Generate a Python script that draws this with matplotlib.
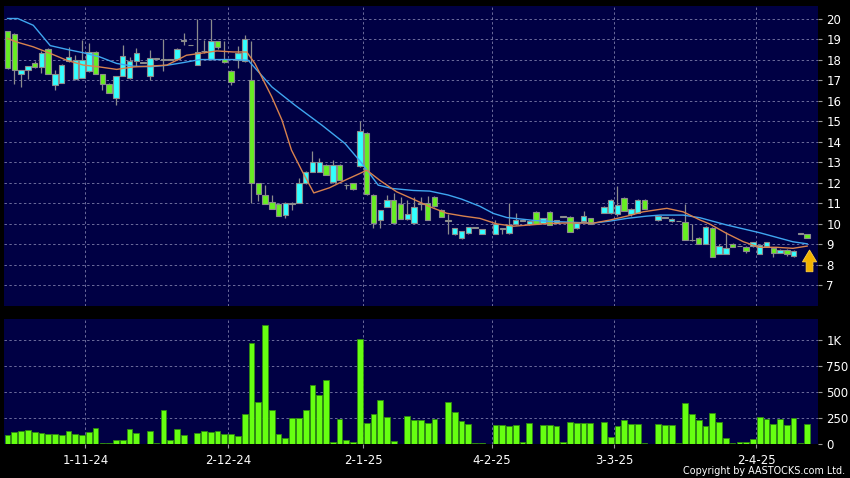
import numpy as np
import matplotlib
matplotlib.use("Agg")
import matplotlib.pyplot as plt
from matplotlib.patches import FancyArrow

nan = np.nan
# ---------------- data (trading-day index 0..118) ----------------
opens = [19.37, 19.25, 17.30, 17.47, 17.83, 17.64, 18.51, 16.78, 16.86, 17.91,
         17.05, 17.10, 17.43, 18.35, 17.30, 16.82, 16.13, 17.21, 17.10, 17.91,
         17.83, 17.18, 18.05, 18.00, 18.00, 18.03, 18.90, 18.70, 17.75, 18.40,
         18.05, 18.89, 18.03, 17.46, 18.00, 17.91, 17.02, 11.99, 11.42, 11.07,
         10.97, 10.42, 10.97, 11.02, 11.99, 12.51, 12.51, 12.85, 12.02, 12.85,
         11.88, 11.99, 12.80, 14.42, 11.42, 10.17, 10.82, 11.18, 10.97, 10.21,
         10.02, 10.96, 10.99, 11.32, 10.67, 10.15, 9.50, 9.29, 9.53, 9.80,
         9.50, nan, 9.50, 9.75, 9.55, 9.99, 10.15, 9.99, 10.57, 10.02,
         10.57, 10.03, 10.33, 10.35, 9.78, 10.12, 10.27, nan, 10.52, 10.50,
         10.45, 11.26, 10.45, 10.53, 11.18, nan, 10.20, 10.30, 10.12, 10.12,
         10.07, 9.20, 9.31, 9.03, 9.80, 8.54, 8.54, 9.02, 8.90, 8.87,
         8.90, 8.54, 8.90, 8.82, 8.58, 8.74, 8.45, 9.50, 9.48]
closes = [17.59, 17.50, 17.47, 17.67, 17.64, 18.32, 17.31, 17.30, 17.75, 18.12,
          17.99, 17.99, 18.35, 17.31, 16.82, 16.37, 17.18, 18.16, 17.91, 18.32,
          17.83, 18.07, 18.05, 18.05, 18.00, 18.51, 18.92, 18.70, 18.37, 18.40,
          18.89, 18.59, 17.86, 16.89, 18.32, 19.00, 11.99, 11.47, 10.98, 10.74,
          10.40, 11.02, 10.97, 11.99, 12.53, 13.00, 13.00, 12.35, 12.85, 12.12,
          11.88, 11.70, 14.50, 11.47, 10.04, 10.66, 11.18, 10.04, 10.21, 10.47,
          10.80, 10.99, 10.18, 10.86, 10.35, 10.17, 9.77, 9.66, 9.82, 9.80,
          9.73, nan, 9.99, 9.75, 9.94, 10.18, 10.15, 10.15, 9.99, 10.26,
          9.94, 10.16, 10.33, 9.61, 10.02, 10.38, 10.00, nan, 10.82, 11.15,
          10.89, 10.61, 10.72, 11.18, 10.72, nan, 10.40, 10.30, 10.25, 10.12,
          9.23, 9.20, 9.03, 9.85, 8.38, 8.90, 8.82, 8.87, 8.90, 8.66,
          9.10, 8.98, 9.10, 8.58, 8.74, 8.50, 8.66, 9.50, 9.29]
highs = [19.40, 19.30, 17.50, 17.70, 17.95, 18.40, 18.55, 17.50, 17.80, 18.60,
         18.20, 18.97, 18.80, 18.40, 17.30, 16.85, 17.20, 18.72, 18.12, 18.56,
         17.83, 18.45, 18.05, 19.00, 18.00, 18.55, 19.28, 18.70, 20.00, 18.95,
         19.97, 18.90, 18.90, 17.50, 18.64, 19.20, 18.90, 12.00, 11.88, 11.40,
         11.00, 11.05, 11.05, 12.23, 12.55, 13.53, 13.20, 12.90, 13.10, 12.90,
         11.95, 12.00, 15.00, 14.45, 11.45, 10.66, 11.40, 11.50, 11.30, 11.15,
         11.32, 11.30, 11.35, 11.35, 10.70, 10.45, 9.78, 9.66, 9.82, 9.80,
         9.73, nan, 10.20, 9.80, 11.00, 10.50, 10.15, 10.20, 10.60, 10.30,
         10.60, 10.20, 10.33, 10.40, 10.10, 10.60, 10.30, nan, 10.85, 11.20,
         11.86, 11.30, 10.75, 11.20, 11.20, nan, 10.40, 10.30, 10.30, 10.12,
         10.94, 10.00, 9.35, 9.90, 9.85, 9.00, 9.59, 9.05, 8.90, 8.90,
         9.10, 9.00, 9.10, 8.85, 8.75, 8.75, 8.70, 9.50, 9.52]
lows = [17.55, 16.80, 16.66, 17.07, 17.60, 17.34, 17.30, 16.53, 16.85, 17.88,
        17.00, 17.08, 17.40, 17.30, 16.53, 16.35, 15.80, 17.20, 17.05, 17.67,
        17.83, 17.02, 18.05, 17.45, 18.00, 18.00, 18.70, 18.70, 17.73, 18.30,
        18.00, 18.50, 17.85, 16.78, 17.60, 17.90, 11.02, 11.10, 10.95, 10.70,
        10.40, 10.29, 10.65, 11.00, 11.95, 12.50, 12.50, 12.35, 12.00, 12.12,
        11.70, 11.65, 12.75, 11.40, 9.80, 9.80, 10.80, 10.04, 10.21, 10.20,
        10.00, 10.67, 10.18, 10.83, 10.34, 9.50, 9.45, 9.25, 9.50, 9.80,
        9.50, nan, 9.48, 9.50, 9.50, 9.95, 10.15, 9.95, 9.97, 10.00,
        9.94, 10.00, 10.33, 9.61, 9.75, 10.10, 9.99, nan, 10.50, 10.45,
        10.40, 10.60, 10.40, 10.50, 10.72, nan, 10.15, 10.30, 10.10, 10.12,
        9.20, 9.15, 9.00, 9.00, 8.38, 8.50, 8.50, 8.87, 8.90, 8.55,
        8.85, 8.50, 8.85, 8.40, 8.55, 8.45, 8.40, 9.50, 9.30]
volumes = [91, 120, 130, 139, 117, 110, 97, 100, 87, 126,
           97, 87, 117, 152, 10, 13, 36, 42, 146, 110,
           0, 130, 5, 333, 39, 142, 84, 0, 110, 130,
           113, 130, 97, 100, 81, 288, 971, 401, 1149, 324,
           100, 61, 252, 252, 327, 573, 476, 621, 23, 246,
           42, 19, 1013, 204, 294, 421, 256, 32, 0, 269,
           227, 236, 201, 243, 0, 401, 307, 223, 194, 10,
           10, 0, 181, 181, 178, 184, 16, 207, 0, 188,
           184, 178, 19, 210, 204, 204, 204, 0, 217, 65,
           178, 227, 191, 191, 10, 0, 191, 188, 184, 6,
           395, 285, 233, 178, 304, 217, 55, 13, 23, 23,
           49, 256, 243, 194, 246, 188, 249, 13, 194]

# moving averages (index, value)
ma10_x = [0, 1.3, 3.8, 6.3, 8.7, 11.2, 13.6, 16.1, 18.6, 21, 23.5, 25, 26.4, 28.4,
          30.9, 33.3, 35.3, 36.5, 39, 40.5, 41.9, 43.4, 45.2, 47.5, 50, 52, 53, 55,
          57.4, 59.9, 62.3, 64.8, 67.3, 69.7, 72.2, 74.7, 77.1, 79.6, 83, 86.5, 88.9,
          91.4, 93.8, 97.3, 99.7, 102.2, 103.6, 106.1, 108.6, 111, 113.5, 115.9, 118]
ma10_y = [19.03, 18.86, 18.62, 18.30, 17.97, 17.73, 17.64, 17.52, 17.64, 17.68, 17.73,
          17.97, 18.21, 18.30, 18.42, 18.37, 18.37, 17.81, 16.18, 15.05, 13.59, 12.61,
          11.50, 11.75, 12.15, 12.45, 12.61, 12.10, 11.56, 11.19, 10.83, 10.51, 10.37,
          10.26, 9.99, 9.88, 9.94, 10.01, 10.04, 10.03, 10.18, 10.37, 10.58, 10.75,
          10.58, 10.18, 9.99, 9.53, 9.12, 8.85, 8.85, 8.80, 8.91]
ma20_x = [0, 1.5, 3.8, 6.3, 8.7, 11.2, 13.6, 16.1, 18.5, 21, 23.5, 25.9, 28.4, 30.9,
          33.3, 35.5, 39, 42.4, 46.4, 49.8, 52.3, 54.7, 56.7, 59.9, 62.3, 65, 67,
          69.7, 71.7, 73.7, 76, 78, 81, 86.4, 88.9, 91.4, 94.3, 96.3, 99.7, 102.2,
          106.1, 111, 115.9, 118]
ma20_y = [20.00, 20.00, 19.67, 18.68, 18.50, 18.33, 18.13, 17.81, 17.68, 17.65, 17.72,
          17.85, 18.00, 18.00, 18.00, 17.97, 16.67, 15.78, 14.80, 13.91, 12.94, 11.88,
          11.72, 11.62, 11.59, 11.40, 11.20, 10.85, 10.50, 10.30, 10.22, 10.15, 10.10,
          10.03, 10.13, 10.26, 10.37, 10.42, 10.42, 10.29, 9.94, 9.56, 9.12, 9.02]

month_start_idx = [12, 33, 53, 72, 90, 111]
month_labels = ["1-11-24", "2-12-24", "2-1-25", "4-2-25", "3-3-25", "2-4-25"]
price_ticks = list(range(7, 21))
vol_ticks = [0, 250, 500, 750, 1000]
vol_tick_labels = ["0", "250", "500", "750", "1K"]
arrow_idx, arrow_top, arrow_bottom = 118.35, 8.72, 7.66

# ---------------- styling ----------------
BG = "#000000"
NAVY = "#000044"
GRID = "#6c6c9c"
UP = "#33FFFF"
DOWN = "#66EE22"
EDGE = "#8c8c8c"
VOLC = "#66FF11"

o = np.array(opens, float); c = np.array(closes, float)
h = np.array(highs, float); l = np.array(lows, float)
v = np.array(volumes, float)
x = np.arange(len(o))
W, H = 850, 478
fig = plt.figure(figsize=(W / 100, H / 100), dpi=100, facecolor=BG)

def px_axes(left, top, right, bottom):
    return fig.add_axes([left / W, 1 - bottom / H, (right - left) / W, (bottom - top) / H])

axp = px_axes(4, 6, 818, 306)
axv = px_axes(4, 319, 818, 444)
xlim = (-0.52, 119.6)

for ax in (axp, axv):
    ax.set_facecolor(NAVY)
    ax.set_xlim(*xlim)
    for s in ax.spines.values():
        s.set_visible(False)
    ax.yaxis.tick_right()
    ax.tick_params(axis="y", length=3, width=0.8, color="#9a9a9a", labelcolor="white",
                   labelsize=8.5, pad=3)
    for k in month_start_idx:
        ax.axvline(k - 0.5, color=GRID, lw=0.7, ls=(0, (2.5, 2.5)), zorder=0.5)

# price panel
axp.set_ylim(5.99, 20.61)
axp.set_yticks(price_ticks)
axp.set_xticks([])
for t in price_ticks:
    axp.axhline(t, color=GRID, lw=0.7, ls=(0, (2.5, 2.5)), zorder=0.5)

valid = ~np.isnan(o)
axp.vlines(x[valid], l[valid], h[valid], color=EDGE, lw=0.9, zorder=2)
body_bot = np.minimum(o, c)
body_h = np.maximum(np.abs(c - o), 0.03)
cols = [UP if cc >= oo else DOWN for oo, cc in zip(o, c)]
cols = [UP if (abs(cc - oo) < 0.02) else col for oo, cc, col in zip(o, c, cols)]
axp.bar(x[valid], body_h[valid], bottom=body_bot[valid], width=0.8,
        color=np.array(cols)[valid], edgecolor=EDGE, linewidth=0.8, zorder=3)

axp.plot(ma20_x, ma20_y, color="#3fa6f0", lw=1.0, zorder=4)
axp.plot(ma10_x, ma10_y, color="#d8824e", lw=1.0, zorder=4)

axp.add_patch(FancyArrow(arrow_idx, arrow_bottom, 0, arrow_top - arrow_bottom,
                         width=1.0, head_width=2.1, head_length=0.58,
                         length_includes_head=True, color="#f2b200",
                         ec="#ffd040", lw=0.6, zorder=6))

# volume panel
axv.set_ylim(0, 1207)
axv.set_yticks(vol_ticks)
axv.set_yticklabels(vol_tick_labels)
for t in vol_ticks[1:]:
    axv.axhline(t, color=GRID, lw=0.7, ls=(0, (2.5, 2.5)), zorder=0.5)
axv.bar(x, v, width=0.85, color=VOLC, edgecolor="#2f8a10", linewidth=0.6, zorder=3)
axv.set_xticks([k - 0.5 for k in month_start_idx])
axv.set_xticklabels(month_labels)
axv.tick_params(axis="x", length=3, width=0.8, color="#9a9a9a", labelcolor="white",
                labelsize=8.5, pad=4)

fig.text(845 / W, 1 - 471 / H, "Copyright by AASTOCKS.com Ltd.", color="white",
         fontsize=6.9, ha="right", va="center")

fig.savefig("out.png", dpi=100, facecolor=BG)
